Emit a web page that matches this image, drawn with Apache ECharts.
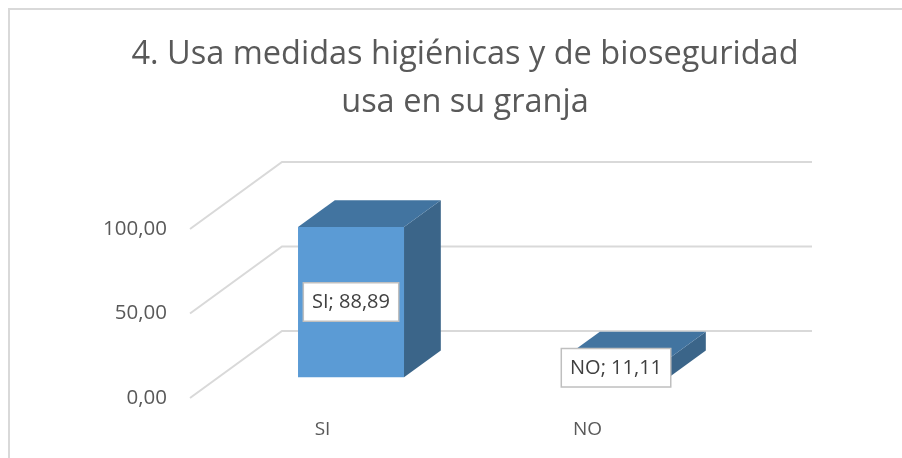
<!DOCTYPE html>
<html>
<head>
<meta charset="utf-8">
<script src="https://cdn.jsdelivr.net/npm/echarts@6/dist/echarts.min.js"></script>
<style>
  html, body { margin: 0; padding: 0; background: #fff; }
  #chart { width: 902px; height: 458px; }
</style>
</head>
<body>
<div id="chart"></div>
<script>
// datos
const categorias = ['SI', 'NO'];
const valores = [88.89, 11.11];
const marcas = [0, 50, 100];

document.addEventListener('DOMContentLoaded', () => {
  const myChart = echarts.init(document.getElementById('chart'));

  // profundidad 3D en pixeles (fondo respecto al frente)
  const DX = 92, DY = -67;
  const F0 = 0.31, FD = 0.4;   // posición y grosor de la barra en profundidad
  const FONT = '"Open Sans", sans-serif';
  const fmt = (v) => v.toFixed(2).replace('.', ',');

  const option = {
    animation: false,
    backgroundColor: '#fff',
    title: {
      text: '4. Usa medidas higiénicas y de bioseguridad\nusa en su granja',
      left: 465,
      textAlign: 'center',
      top: 31,
      padding: 0,
      textStyle: { fontFamily: FONT, fontSize: 32.5, fontWeight: 'normal', color: '#595959', lineHeight: 48 }
    },
    graphic: [{
      type: 'rect',
      shape: { x: 9, y: 9, width: 1000, height: 600 },
      style: { fill: 'none', stroke: '#d9d9d9', lineWidth: 2 },
      silent: true
    }],
    grid: { left: 190, right: 182, top: 229, bottom: 60 },
    xAxis: {
      type: 'category',
      data: categorias,
      axisLine: { show: false },
      axisTick: { show: false },
      axisLabel: { margin: 22, fontFamily: FONT, fontSize: 19, color: '#595959' }
    },
    yAxis: {
      type: 'value',
      min: 0, max: 100, interval: 50,
      splitLine: { show: false },
      axisLabel: { margin: 23, fontFamily: FONT, fontSize: 20.5, color: '#595959', formatter: fmt }
    },
    series: [
      {
        // líneas de división en perspectiva
        type: 'custom',
        silent: true,
        z: 1,
        data: marcas.map(v => [0, v]),
        renderItem: (params, api) => {
          const cs = params.coordSys;
          const y = api.coord([0, api.value(1)])[1];
          return {
            type: 'polyline',
            shape: { points: [[cs.x, y], [cs.x + DX, y + DY], [cs.x + cs.width + DX, y + DY]] },
            style: { stroke: '#d9d9d9', lineWidth: 2, fill: 'none' }
          };
        }
      },
      {
        type: 'custom',
        z: 2,
        data: valores.map((v, i) => [i, v]),
        renderItem: (params, api) => {
          const base = api.coord([api.value(0), 0]);
          const top = api.coord([api.value(0), api.value(1)]);
          const w = api.size([1, 0])[0] * 0.4;
          const ox = F0 * DX, oy = F0 * DY;
          const dx = FD * DX, dy = FD * DY;
          const x0 = base[0] - w / 2 + ox, x1 = x0 + w;
          const yb = base[1] + oy, yt = top[1] + oy;
          const name = categorias[params.dataIndex];
          return {
            type: 'group',
            children: [
              {
                type: 'polygon',
                shape: { points: [[x1, yt], [x1 + dx, yt + dy], [x1 + dx, yb + dy], [x1, yb]] },
                style: { fill: '#3b6589' }
              },
              {
                type: 'polygon',
                shape: { points: [[x0, yt], [x1, yt], [x1 + dx, yt + dy], [x0 + dx, yt + dy]] },
                style: { fill: '#4274a0' }
              },
              {
                type: 'rect',
                shape: { x: x0, y: yt, width: w, height: yb - yt },
                style: { fill: '#5b9bd5' }
              },
              {
                type: 'text',
                z2: 10,
                x: (x0 + x1) / 2,
                y: (yt + yb) / 2,
                style: {
                  text: name + '; ' + fmt(api.value(1)),
                  fontFamily: FONT, fontSize: 20, fill: '#404040',
                  align: 'center', verticalAlign: 'middle',
                  backgroundColor: '#fff', borderColor: '#bfbfbf', borderWidth: 1.5,
                  padding: [9, 8, 8, 8]
                }
              }
            ]
          };
        }
      }
    ]
  };

  myChart.setOption(option);
  window.addEventListener('resize', () => myChart.resize());
});
</script>
</body>
</html>
